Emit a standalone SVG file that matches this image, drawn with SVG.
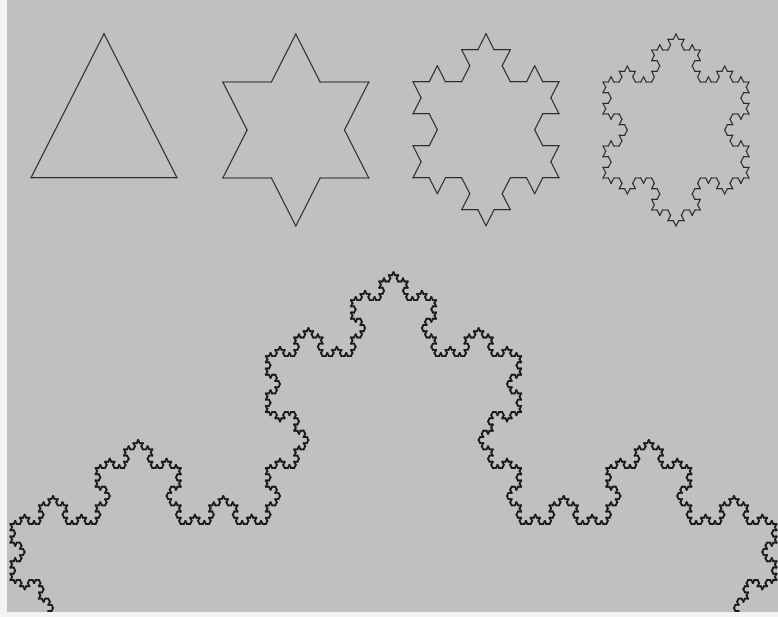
<svg xmlns="http://www.w3.org/2000/svg" xmlns:xlink="http://www.w3.org/1999/xlink" width="778" height="617" viewBox="0 0 778 617">
<style>
.seg{stroke-linecap:round;fill:none;vector-effect:non-scaling-stroke}
.small{stroke:#2d2d2d;stroke-width:1.2}
.big{stroke:#1a1a1a;stroke-width:1.9}
</style>
<defs>
<line id="k0" class="seg" x1="0" y1="0" x2="1" y2="0" vector-effect="non-scaling-stroke"/>
<g id="k1"><use href="#k0" transform="scale(0.333333)"/><use href="#k0" transform="translate(0.333333,0) rotate(-60) scale(0.333333)"/><use href="#k0" transform="translate(0.5,-0.288675) rotate(60) scale(0.333333)"/><use href="#k0" transform="translate(0.666667,0) scale(0.333333)"/></g>
<g id="k2"><use href="#k1" transform="scale(0.333333)"/><use href="#k1" transform="translate(0.333333,0) rotate(-60) scale(0.333333)"/><use href="#k1" transform="translate(0.5,-0.288675) rotate(60) scale(0.333333)"/><use href="#k1" transform="translate(0.666667,0) scale(0.333333)"/></g>
<g id="k3"><use href="#k2" transform="scale(0.333333)"/><use href="#k2" transform="translate(0.333333,0) rotate(-60) scale(0.333333)"/><use href="#k2" transform="translate(0.5,-0.288675) rotate(60) scale(0.333333)"/><use href="#k2" transform="translate(0.666667,0) scale(0.333333)"/></g>
<g id="k4"><use href="#k3" transform="scale(0.333333)"/><use href="#k3" transform="translate(0.333333,0) rotate(-60) scale(0.333333)"/><use href="#k3" transform="translate(0.5,-0.288675) rotate(60) scale(0.333333)"/><use href="#k3" transform="translate(0.666667,0) scale(0.333333)"/></g>
<g id="k5"><use href="#k4" transform="scale(0.333333)"/><use href="#k4" transform="translate(0.333333,0) rotate(-60) scale(0.333333)"/><use href="#k4" transform="translate(0.5,-0.288675) rotate(60) scale(0.333333)"/><use href="#k4" transform="translate(0.666667,0) scale(0.333333)"/></g>
</defs>
<rect x="0" y="0" width="778" height="617" fill="#c0c0c0"/>
<g id="flake0" class="small" transform="translate(104,33.7) scale(146,166.3)">
<use href="#k0" transform="translate(-0.5,0.866025) rotate(-60)"/><use href="#k0" transform="rotate(60)"/><use href="#k0" transform="translate(0.5,0.866025) rotate(180)"/>
</g>
<g id="flake1" class="small" transform="translate(295.8,34) scale(146,166.3)">
<use href="#k1" transform="translate(-0.5,0.866025) rotate(-60)"/><use href="#k1" transform="rotate(60)"/><use href="#k1" transform="translate(0.5,0.866025) rotate(180)"/>
</g>
<g id="flake2" class="small" transform="translate(486,33.7) scale(146,166.3)">
<use href="#k2" transform="translate(-0.5,0.866025) rotate(-60)"/><use href="#k2" transform="rotate(60)"/><use href="#k2" transform="translate(0.5,0.866025) rotate(180)"/>
</g>
<g id="flake3" class="small" transform="translate(676,34) scale(146,166.3)">
<use href="#k3" transform="translate(-0.5,0.866025) rotate(-60)"/><use href="#k3" transform="rotate(60)"/><use href="#k3" transform="translate(0.5,0.866025) rotate(180)"/>
</g>
<g id="flake5" class="big" transform="translate(10.5,524) scale(766,872.5)">
<use href="#k5"/><use href="#k5" transform="translate(1,0) rotate(120)"/><use href="#k5" transform="translate(0.5,0.866025) rotate(-120)"/>
</g>
<rect x="0" y="0" width="7" height="617" fill="#f3f3f3"/>
<rect x="0" y="612" width="778" height="5" fill="#f3f3f3"/>
</svg>
